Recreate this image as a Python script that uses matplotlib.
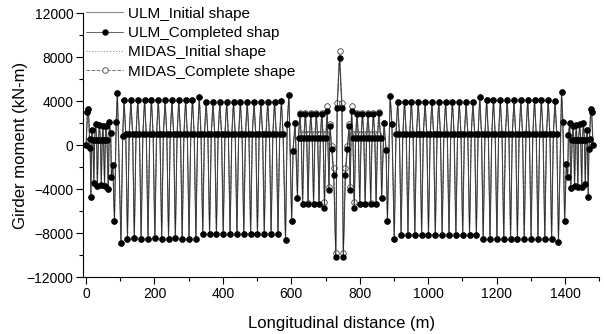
import matplotlib
matplotlib.use('Agg')
import matplotlib.pyplot as plt
from matplotlib.ticker import MultipleLocator

plt.rcParams['font.family'] = ['Liberation Sans', 'DejaVu Sans']

# --- data (x in m, moment in kN-m) ---

# left end cluster
left_end_x = [0, 4, 7, 10, 12, 14, 17, 20, 22.5, 25, 28, 31, 33, 36, 39, 42, 44.5, 47, 49, 51,
              54, 56, 58.5, 61, 65, 68, 72, 74, 78, 83, 88, 91.5, 102, 107]
left_end_y = [0, 3000, 3300, 600, -250, -4700, 1400, 500, -3400, 500, 1950, 500, -3700, 500, 1850, 500,
              -3650, 500, 1750, 500, -3700, 500, 1750, 500, -4000, 2100, 1100, -2850, -1800, -6900,
              2100, 4750, -8900, 800]

# long side spans, panels every 20 m (tops / bottoms of each panel)
big_left_top = [4120, 4130, 4120, 4120, 4130, 4120, 4120, 4130, 4120, 4120, 4150, 4350,
                3960, 3960, 3970, 3960, 3960, 3960, 3970, 3960, 3960, 3960, 3970, 3990]
big_left_bot = [-8480, -8470, -8480, -8480, -8470, -8480, -8480, -8470, -8480, -8480, -8490,
                -8070, -8060, -8070, -8070, -8060, -8070, -8070, -8060, -8070, -8070, -8060, -8080]
big_right_top = [3960, 3950, 3950, 3960, 3950, 3950, 3960, 3950, 3950, 3960, 3950, 3950, 4350,
                 4130, 4130, 4140, 4130, 4130, 4130, 4140, 4130, 4130, 4130, 4040]
big_right_bot = [-8170, -8160, -8170, -8170, -8160, -8170, -8170, -8160, -8170, -8170, -8160, -8200,
                 -8530, -8530, -8520, -8530, -8530, -8520, -8530, -8530, -8520, -8530, -8540]
big_mid = 1000

# transitions between long spans and the short spans near the pylon
left_trans_x = [576, 583, 588, 593, 601, 605, 611, 618, 621]
left_trans_y = [1000, -8600, 1970, 4580, -6900, -490, 2060, -4820, 700]
right_trans_x = [861, 864, 871, 877, 881, 889, 894, 901, 906]
right_trans_y = [700, -4820, 2060, -450, -6860, 4510, 1970, -8540, 1000]

# short spans, panels every 16 m
med_left_top = [2830, 2840, 2830, 2830, 2840, 3130]
med_left_bot = [-5370, -5360, -5370, -5370, -5740]
med_right_top = [3130, 2840, 2830, 2830, 2840, 2920]
med_right_bot = [-5740, -5370, -5370, -5360, -5370]
med_mid = 700
midas_med_left_top = [2970, 2980, 2970, 2970, 2980, 3580]
midas_med_left_bot = [-5300, -5290, -5300, -5300, -5180]
midas_med_right_top = [3580, 2980, 2970, 2970, 2980, 3050]
midas_med_right_bot = [-5180, -5300, -5300, -5290, -5300]
midas_med_mid = 1050

# centre region
center_x = [710, 713, 718, 724, 730, 734, 741, 748, 752, 758, 764, 769, 772]
ulm_center_y = [-4100, 1730, -300, -2700, -10200, 3360, 7960, 3360, -10200, -2700, -300, 1730, -4100]
midas_center_y = [-3780, 1900, -100, -2100, -9770, 3890, 8570, 3890, -9770, -2100, -100, 1900, -3780]

# right end cluster
right_end_x = [1376, 1381, 1390, 1394, 1399, 1404, 1408, 1410, 1414, 1417, 1421, 1423.5, 1426, 1428,
               1431, 1433, 1435, 1437.5, 1440, 1443, 1446, 1449, 1451, 1454, 1457, 1459.5, 1462,
               1465, 1468, 1470, 1472, 1475, 1478, 1482]
right_end_y = [1000, -8800, 4810, 2100, -6870, -1730, -2870, 900, 2000, -3900, 500, 1800, 500, -3700,
               500, 1850, 500, -3780, 500, 1950, 500, -3780, 500, 2000, 500, -3500, 500,
               1400, -4700, -300, 600, 3300, 3000, 0]


def zigzag(x0, step, tops, bots, mid):
    xs, ys = [], []
    for i, t in enumerate(tops):
        x = x0 + step * i
        xs.append(x)
        ys.append(t)
        if i < len(bots):
            xs += [x + step / 4, x + step / 2, x + 3 * step / 4]
            ys += [mid, bots[i], mid]
    return xs, ys


def assemble(ml_top, ml_bot, mr_top, mr_bot, m_mid, c_y):
    blx, bly = zigzag(111, 20, big_left_top, big_left_bot, big_mid)
    mlx, mly = zigzag(625, 16, ml_top, ml_bot, m_mid)
    mrx, mry = zigzag(776, 16, mr_top, mr_bot, m_mid)
    brx, bry = zigzag(911, 20, big_right_top, big_right_bot, big_mid)
    xs = left_end_x + blx + left_trans_x + mlx + center_x + mrx + right_trans_x + brx + right_end_x
    ys = left_end_y + bly + left_trans_y + mly + c_y + mry + right_trans_y + bry + right_end_y
    return xs, ys


ulm_x, ulm_y = assemble(med_left_top, med_left_bot, med_right_top, med_right_bot, med_mid, ulm_center_y)
mid_x, mid_y = assemble(midas_med_left_top, midas_med_left_bot, midas_med_right_top,
                        midas_med_right_bot, midas_med_mid, midas_center_y)

fig = plt.figure(figsize=(6.04, 3.34), dpi=100)
ax = fig.add_axes([0.138, 0.170, 0.854, 0.790])

l3, = ax.plot(mid_x, mid_y, ':', color='0.6', lw=0.8, label='MIDAS_Initial shape')
l4, = ax.plot(mid_x, mid_y, '--', color='0.45', lw=0.7, marker='o', ms=4, mfc='white',
              mec='0.25', mew=0.6, label='MIDAS_Complete shape')
l1, = ax.plot(ulm_x, ulm_y, '-', color='0.55', lw=0.8, label='ULM_Initial shape')
l2, = ax.plot(ulm_x, ulm_y, '-', color='0.15', lw=0.5, marker='o', ms=3.6, mfc='black',
              mec='black', label='ULM_Completed shap')

ax.set_xlim(-8, 1500)
ax.set_ylim(-12000, 12000)
ax.xaxis.set_major_locator(MultipleLocator(200))
ax.xaxis.set_minor_locator(MultipleLocator(100))
ax.yaxis.set_major_locator(MultipleLocator(4000))
ax.yaxis.set_minor_locator(MultipleLocator(2000))
ax.tick_params(which='major', direction='out', length=5, width=0.8, labelsize=10, pad=2)
ax.tick_params(which='minor', direction='out', length=3, width=0.8)
ax.spines['top'].set_visible(False)
ax.spines['right'].set_visible(False)

ax.set_xlabel('Longitudinal distance (m)', fontsize=12, labelpad=11)
ax.set_ylabel('Girder moment (kN-m)', fontsize=12, labelpad=-1)

fig.legend(handles=[l1, l2, l3, l4], loc='upper left', bbox_to_anchor=(0.143, 0.98),
           frameon=False, fontsize=11, handlelength=2.4, handletextpad=0.35,
           labelspacing=0.35, borderpad=0, borderaxespad=0)

fig.savefig('out.png', dpi=100)
